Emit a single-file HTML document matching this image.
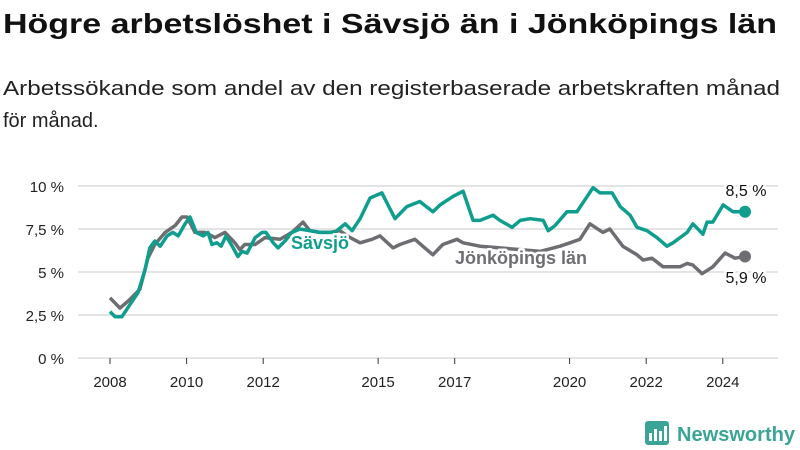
<!DOCTYPE html>
<html><head><meta charset="utf-8"><style>
body{margin:0;background:#fff;width:800px;height:450px;overflow:hidden}
svg{display:block;font-family:"Liberation Sans",sans-serif}
</style></head><body>
<svg id="chart" width="800" height="450" viewBox="0 0 800 450">
<text x="3" y="33" font-size="28" font-weight="bold" fill="#111" textLength="774" lengthAdjust="spacingAndGlyphs">Högre arbetslöshet i Sävsjö än i Jönköpings län</text>
<text x="3" y="95" font-size="20" fill="#222" textLength="777" lengthAdjust="spacingAndGlyphs">Arbetssökande som andel av den registerbaserade arbetskraften månad</text>
<text x="3" y="127" font-size="20" fill="#222">för månad.</text>
<g id="grid"></g>
<g id="xaxis"></g>
<g id="series"></g>
<g id="labels"></g>
<g>
<rect x="645" y="421" width="24" height="24" rx="3" fill="#3aa597"/>
<rect x="649" y="433" width="3" height="8" fill="#fff"/>
<rect x="654" y="429" width="3" height="12" fill="#fff"/>
<rect x="659" y="431" width="3" height="10" fill="#fff"/>
<rect x="664" y="426" width="3" height="15" fill="#fff"/>
<text x="677" y="441" font-size="20" font-weight="bold" fill="#3aa597" textLength="118" lengthAdjust="spacingAndGlyphs">Newsworthy</text>
</g>
</svg>
<script>
const yTicks=[0,2.5,5,7.5,10];
const yTickLabels=["0 %","2,5 %","5 %","7,5 %","10 %"];
const xTicks=[2008,2010,2012,2015,2017,2020,2022,2024];
const savsjoT=[2008.0,2008.13,2008.31,2008.52,2008.73,2008.91,2009.04,2009.17,2009.31,2009.49,2009.64,2009.78,2009.96,2010.09,2010.25,2010.43,2010.56,2010.66,2010.79,2010.90,2011.03,2011.19,2011.34,2011.45,2011.58,2011.79,2011.97,2012.07,2012.26,2012.39,2012.57,2012.75,2012.96,2013.48,2013.87,2014.14,2014.32,2014.53,2014.79,2015.10,2015.44,2015.75,2016.09,2016.43,2016.62,2016.96,2017.22,2017.48,2017.66,2018.00,2018.18,2018.50,2018.71,2018.97,2019.31,2019.44,2019.62,2019.93,2020.19,2020.61,2020.79,2021.11,2021.32,2021.58,2021.76,2022.02,2022.28,2022.54,2022.70,2023.07,2023.22,2023.48,2023.59,2023.74,2024.01,2024.27,2024.58];
const savsjoV=[2.7,2.4,2.4,3.1,3.8,5.1,6.4,6.8,6.5,7.1,7.3,7.1,7.8,8.2,7.3,7.1,7.3,6.6,6.7,6.5,7.1,6.5,5.9,6.2,6.1,7.0,7.3,7.3,6.7,6.4,6.8,7.3,7.5,7.3,7.3,7.8,7.4,8.1,9.3,9.6,8.1,8.8,9.1,8.5,8.9,9.4,9.7,8.0,8.0,8.3,8.0,7.6,8.0,8.1,8.0,7.4,7.7,8.5,8.5,9.9,9.6,9.6,8.8,8.3,7.6,7.4,7.0,6.5,6.7,7.3,7.8,7.2,7.9,7.9,8.9,8.5,8.5];
const lanT=[2008.0,2008.26,2008.52,2008.78,2008.99,2009.17,2009.44,2009.70,2009.88,2010.01,2010.22,2010.48,2010.74,2011.0,2011.26,2011.39,2011.52,2011.79,2012.05,2012.44,2012.75,2013.04,2013.22,2013.48,2013.74,2014.0,2014.27,2014.53,2014.84,2015.05,2015.39,2015.57,2015.96,2016.22,2016.43,2016.69,2017.06,2017.22,2017.66,2018.18,2018.71,2019.23,2019.75,2020.01,2020.27,2020.53,2020.87,2021.05,2021.39,2021.76,2021.92,2022.15,2022.44,2022.88,2023.07,2023.22,2023.46,2023.74,2024.06,2024.32,2024.58];
const lanV=[3.5,2.9,3.4,4.0,5.8,6.6,7.3,7.7,8.2,8.2,7.3,7.3,7.0,7.3,6.7,6.3,6.6,6.6,7.0,6.9,7.3,7.9,7.4,7.3,7.3,7.4,7.0,6.7,6.9,7.1,6.4,6.6,6.9,6.4,6.0,6.6,6.9,6.7,6.5,6.4,6.3,6.2,6.5,6.7,6.9,7.8,7.3,7.5,6.5,6.0,5.7,5.8,5.3,5.3,5.5,5.4,4.9,5.3,6.1,5.8,5.9];
const NS="http://www.w3.org/2000/svg";
const X=t=>110+(t-2008)*38.3;
const Y=v=>358-v*17.2;
function mk(tag,attrs,parent){const e=document.createElementNS(NS,tag);for(const k in attrs)e.setAttribute(k,attrs[k]);parent.appendChild(e);return e;}
const grid=document.getElementById('grid');
yTicks.forEach((v,i)=>{
  const l=mk('line',{x1:78,x2:778,y1:Y(v),y2:Y(v),stroke:'#dcdcdc','stroke-width':1.5},grid);
  
  
  const t=mk('text',{x:64,y:Y(v)+6,'text-anchor':'end','font-size':15,fill:'#222'},grid);
  t.textContent=yTickLabels[i];
  
  
});
const xa=document.getElementById('xaxis');
xTicks.forEach(y=>{
  const l=mk('line',{x1:X(y),x2:X(y),y1:358,y2:364,stroke:'#333','stroke-width':1},xa);
  
  
  const t=mk('text',{x:X(y),y:387,'text-anchor':'middle','font-size':15,fill:'#222'},xa);
  t.textContent=y;
  
  
});
const sg=document.getElementById('series');
function line(T,V,color,name){
  const d=T.map((t,i)=>(i?'L':'M')+X(t).toFixed(1)+' '+Y(V[i]).toFixed(1)).join(' ');
  const p=mk('path',{d:d,fill:'none',stroke:color,'stroke-width':3.5,'stroke-linejoin':'round'},sg);
  
  
  const n=T.length-1;
  const c=mk('circle',{cx:X(T[n]),cy:Y(V[n]),r:6,fill:color},sg);
  
  
}
line(lanT,lanV,'#6e6d72','jonkoping');
line(savsjoT,savsjoV,'#0f9e8e','savsjo');
const lg=document.getElementById('labels');
function lab(x,y,txt,color,size,weight,name,anchor){
  const t=mk('text',{x:x,y:y,'font-size':size,'font-weight':weight,fill:color,stroke:'#fff','stroke-width':5,'paint-order':'stroke','stroke-linejoin':'round','text-anchor':anchor||'start'},lg);
  t.textContent=txt;
  
  
}
lab(291,249,'Sävsjö','#0f9e8e',18,'bold','savsjo-label');
lab(455,264,'Jönköpings län','#6e6d72',18,'bold','jonkoping-label');
lab(746,196,'8,5 %','#111',16,'normal','savsjo-value-label','middle');
lab(746,283,'5,9 %','#111',16,'normal','jonkoping-value-label','middle');
</script>
</body></html>
